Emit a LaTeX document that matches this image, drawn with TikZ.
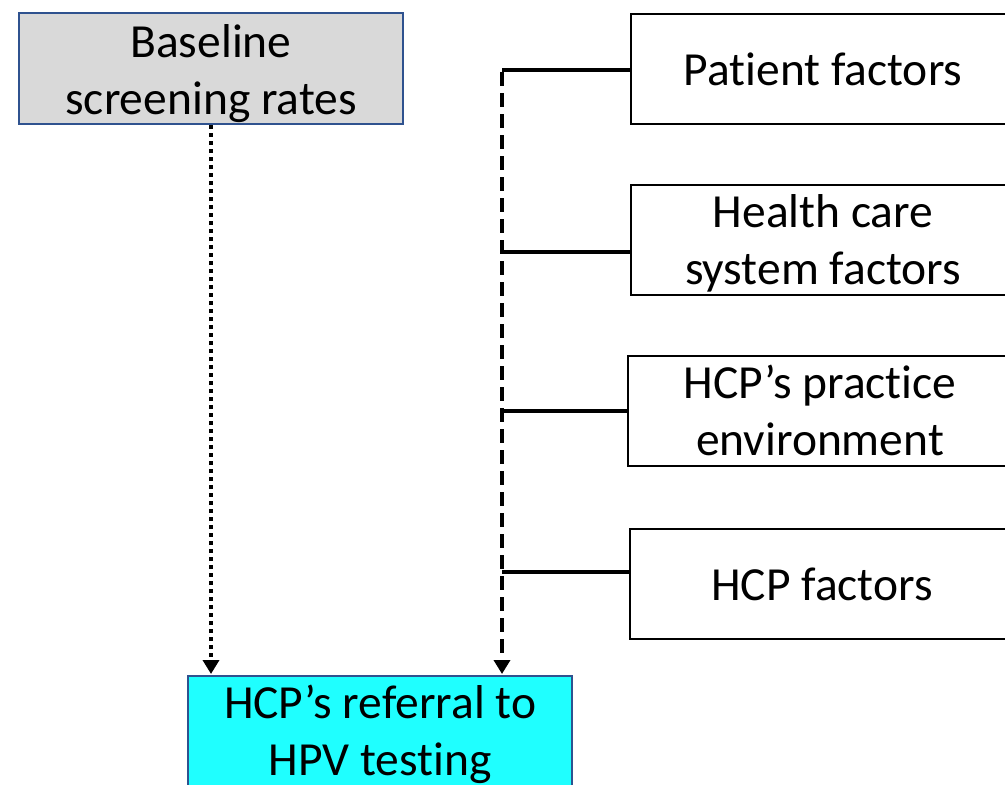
\documentclass[tikz,border=0pt]{standalone}
\usepackage{fontspec}
\setmainfont{Carlito}[Ligatures={NoCommon}]
\usetikzlibrary{arrows.meta,calc}
\definecolor{bordblue}{HTML}{2F528F}
\definecolor{boxgray}{HTML}{D9D9D9}
\definecolor{boxcyan}{HTML}{1FFFFF}
\begin{document}
\begin{tikzpicture}[x=1pt,y=-1pt,
  txt/.style={font=\fontsize{47.5}{57}\selectfont, align=center, inner sep=0pt},
  factorbox/.style={txt, draw=black, line width=2pt, fill=white, minimum width=384pt, minimum height=110pt},
  bluebox/.style={txt, draw=bordblue, line width=2pt, minimum width=384pt, minimum height=111pt},
  link/.style={line width=4pt},
  trunk/.style={line width=4pt, dash pattern=on 14pt off 7pt},
  dotline/.style={line width=4pt, dash pattern=on 4pt off 4pt},
  tip/.style={-{Triangle[width=16pt,length=14pt]}}
]
\useasboundingbox (0,0) rectangle (1005,785);
\clip (0,0) rectangle (1005,785);
\fill[white] (0,0) rectangle (1005,785);

\node[bluebox, fill=boxgray, label={[txt,yshift=-5pt]center:{Baseline\\screening rates}}] (base) at (211,68.5) {};
\node[bluebox, fill=boxcyan, label={[txt,yshift=-3pt]center:{HCP’s referral to\\HPV testing}}] (ref) at (380,731.5) {};

\node[factorbox] (pat) at (823,69) {Patient factors};
\node[factorbox, label={[txt,yshift=-3pt]center:{Health care\\system factors}}] (hcs) at (823,240) {};
\node[factorbox, label={[txt,yshift=1pt]center:{HCP’s practice\\environment}}] (prac) at (820,411) {};
\node[factorbox] (hcp) at (822,584) {HCP factors};

\coordinate (j1) at (502,70);
\coordinate (j2) at (502,252);
\coordinate (j3) at (502,411);
\coordinate (j4) at (502,572);
\coordinate (rtop) at (502,674);
\coordinate (btop) at (211,674);

\draw[link] (j1) -- (j1 -| pat.west);
\draw[link] (j2) -- (j2 -| hcs.west);
\draw[link] (j3) -- (j3 -| prac.west);
\draw[link] (j4) -- (j4 -| hcp.west);
\draw[trunk, tip] ([yshift=-2pt]j1) -- (rtop);
\draw[dotline, tip] (base.south) -- (btop);
\end{tikzpicture}
\end{document}
